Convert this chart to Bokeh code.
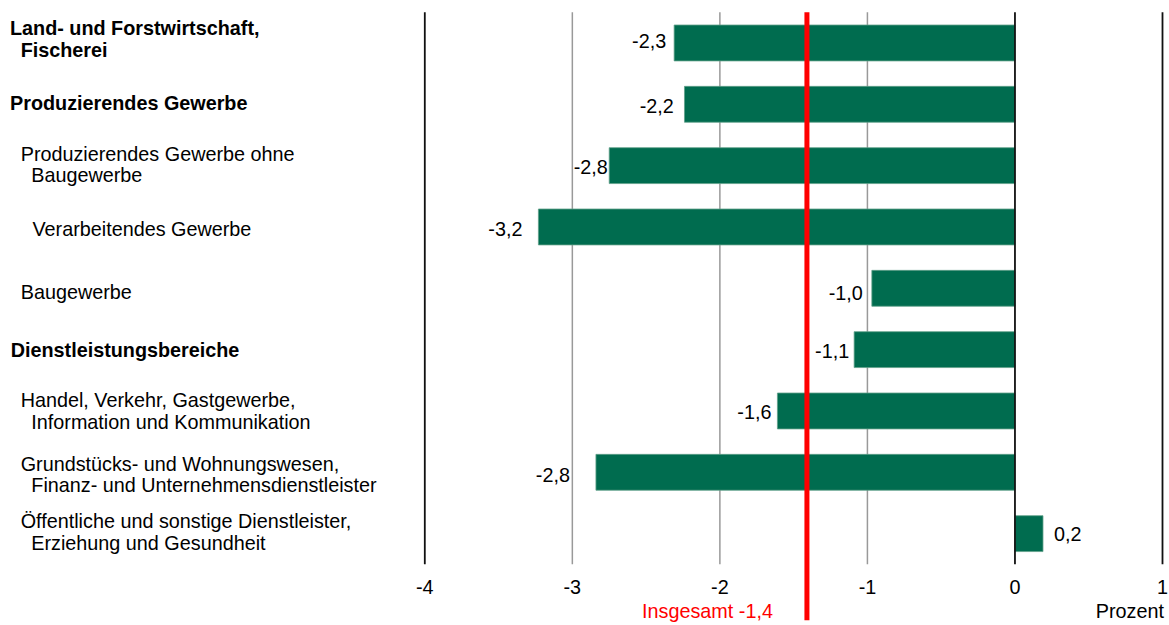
from bokeh.plotting import figure
from bokeh.models import Range1d, ColumnDataSource, LabelSet, Label, FixedTicker, LinearAxis
from bokeh.core.properties import value
from bokeh.embed import file_html
from bokeh.resources import INLINE

# ---------------- data ----------------
# rows from top to bottom
values = [-2.31, -2.24, -2.75, -3.23, -0.97, -1.09, -1.61, -2.84, 0.19]
value_labels = ["-2,3", "-2,2", "-2,8", "-3,2", "-1,0", "-1,1", "-1,6", "-2,8", "0,2"]

# category label lines (row index, text, bold)
cat_rows = [0, 0, 1, 2, 2, 3, 4, 5, 6, 6, 7, 7, 8, 8]
cat_texts = [
    "Land- und Forstwirtschaft,", "Fischerei",
    "Produzierendes Gewerbe",
    "Produzierendes Gewerbe ohne", "Baugewerbe",
    "Verarbeitendes Gewerbe",
    "Baugewerbe",
    "Dienstleistungsbereiche",
    "Handel, Verkehr, Gastgewerbe,", "Information und Kommunikation",
    "Grundstücks- und Wohnungswesen,", "Finanz- und Unternehmensdienstleister",
    "Öffentliche und sonstige Dienstleister,", "Erziehung und Gesundheit",
]
cat_bold = [True, True, True, False, False, False, False, True,
            False, False, False, False, False, False]

total = -1.41
total_label = "Insgesamt -1,4"
unit_label = "Prozent"
x_ticks = [-4, -3, -2, -1, 0, 1]
grey_lines = [-3, -2, -1]
black_lines = [-4, 0, 1]

# ---------------- layout (px) ----------------
W, H = 1169, 625
AX_LEFT_PX, AX_RIGHT_PX = 424.3, 1162.0     # where x = -4 and x = 1 fall
AX_TOP_PX, AX_BOTTOM_PX = 11.8, 563.8       # top / bottom edge of the bar rows
cat_x_px = [9.5, 20.2, 9.5, 20.2, 30.8, 32.0, 20.2, 10.2, 20.2, 30.8, 20.2, 30.8, 20.2, 30.8]
cat_dy = [-15, 7.5, -1, -12, 9.5, 1.6, 3.7, 0.5, -10.7, 11, -8.7, 12.9, -12.8, 9.5]
val_gap = [8, 10.7, 1.5, 16, 9, 5, 6, 26, 11]
val_dy = [-1.7, 2, 1.7, 1.7, 4.8, 1.2, 1.25, 3, 0]

FONT = "Liberation Sans"
FS = "19.8px"
n = len(values)
ypos = [n - 1 - i for i in range(n)]
y_top, y_bot = n - 0.5, -0.5
ppx = (AX_RIGHT_PX - AX_LEFT_PX) / (x_ticks[-1] - x_ticks[0])
ppy = (AX_BOTTOM_PX - AX_TOP_PX) / (y_top - y_bot)
x_start = x_ticks[0] - AX_LEFT_PX / ppx
x_end = x_ticks[0] + (W - AX_LEFT_PX) / ppx
yr_end = y_top + AX_TOP_PX / ppy
yr_start = y_top - (H - AX_TOP_PX) / ppy

p = figure(width=W, height=H,
           x_range=Range1d(x_start, x_end), y_range=Range1d(yr_start, yr_end),
           output_backend="svg", toolbar_location=None,
           x_axis_location=None, y_axis_location=None,
           min_border=0)
p.outline_line_color = None
p.background_fill_color = "white"
p.border_fill_color = "white"
p.xgrid.visible = False
p.ygrid.visible = False

# x axis drawn at the bottom edge of the bar area
ax = LinearAxis(fixed_location=y_bot, ticker=FixedTicker(ticks=x_ticks),
                major_label_overrides={t: str(t) for t in x_ticks})
ax.axis_line_color = None
ax.major_tick_line_color = None
ax.minor_tick_line_color = None
ax.major_tick_out = 0
ax.major_tick_in = 0
ax.major_label_standoff = 16
ax.major_label_text_font = FONT
ax.major_label_text_font_size = FS
ax.major_label_text_color = "#000000"
p.add_layout(ax, "below")

# vertical grid lines limited to the bar area
p.segment(x0=grey_lines, x1=grey_lines, y0=[y_bot] * len(grey_lines), y1=[y_top] * len(grey_lines),
          line_color="#999999", line_width=1.5)

src = ColumnDataSource(dict(y=ypos, v=values))
p.hbar(y="y", right="v", left=0, height=0.585, source=src,
       fill_color="#006C4F", line_color="#5f9f89", line_width=0.8)

p.segment(x0=black_lines, x1=black_lines, y0=[y_bot] * len(black_lines), y1=[y_top] * len(black_lines),
          line_color="#111111", line_width=1.8)

# total line, extending below the axis
p.segment(x0=[total], x1=[total], y0=[y_top], y1=[y_bot - 56 / ppy],
          line_color="#FF0000", line_width=5)

# value labels
for cond, al, sign in ((lambda v: v < 0, "right", -1), (lambda v: v >= 0, "left", 1)):
    ii = [i for i in range(n) if cond(values[i])]
    s = ColumnDataSource(dict(x=[values[i] for i in ii], y=[ypos[i] for i in ii],
                              t=[value_labels[i] for i in ii],
                              xo=[sign * val_gap[i] for i in ii],
                              yo=[-val_dy[i] for i in ii]))
    p.add_layout(LabelSet(x="x", y="y", text="t", x_offset="xo", y_offset="yo", source=s,
                          text_align=al, text_baseline="middle",
                          text_font=value(FONT), text_font_size=value(FS),
                          text_color="#000000"))

# category labels
for bold in (True, False):
    idx = [i for i in range(len(cat_texts)) if cat_bold[i] == bold]
    cs = ColumnDataSource(dict(
        x=[x_start] * len(idx),
        y=[ypos[cat_rows[i]] for i in idx],
        t=[cat_texts[i] for i in idx],
        xo=[cat_x_px[i] for i in idx],
        yo=[-cat_dy[i] for i in idx]))
    p.add_layout(LabelSet(x="x", y="y", text="t", x_offset="xo", y_offset="yo", source=cs,
                          text_align="left", text_baseline="middle",
                          text_font=value(FONT), text_font_size=value(FS),
                          text_font_style="bold" if bold else "normal",
                          text_color="#000000"))

p.add_layout(Label(x=total, y=y_bot, x_offset=-34, y_offset=-47, text=total_label,
                   text_align="right", text_baseline="middle", text_color="#FF0000",
                   text_font=FONT, text_font_size=FS))
p.add_layout(Label(x=x_ticks[-1], y=y_bot, x_offset=1.5, y_offset=-47, text=unit_label,
                   text_align="right", text_baseline="middle", text_color="#000000",
                   text_font=FONT, text_font_size=FS))

open("out.html", "w").write(file_html(p, INLINE))
